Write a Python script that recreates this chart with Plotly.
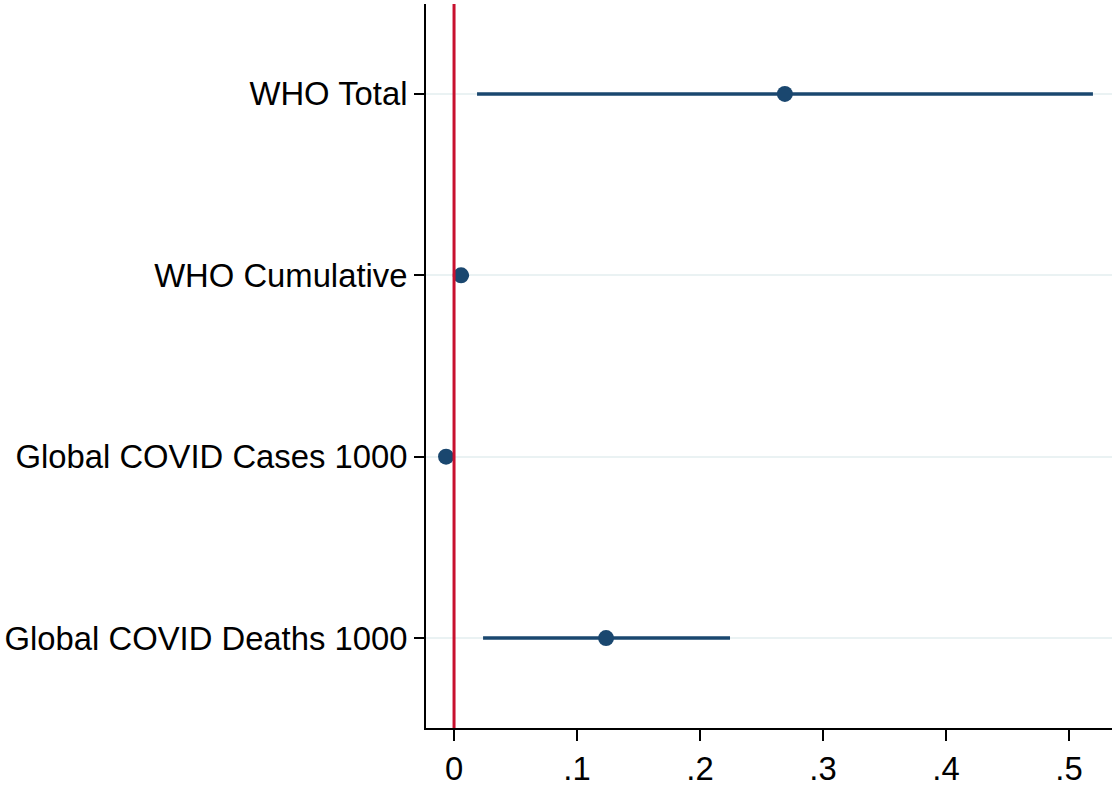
import plotly.graph_objects as go

labels = ["WHO Total", "WHO Cumulative", "Global COVID Cases 1000", "Global COVID Deaths 1000"]
positions = [1, 2, 3, 4]
coef = [0.269, 0.0057, -0.0065, 0.1236]
ci_low = [0.0187, -0.001, -0.0085, 0.0236]
ci_high = [0.5195, 0.012, -0.0045, 0.2244]
xtick_vals = [0, 0.1, 0.2, 0.3, 0.4, 0.5]
xtick_text = ["0", ".1", ".2", ".3", ".4", ".5"]

navy = "#1a476f"
red = "#c8102e"

fig = go.Figure()

# CI lines
for y, lo, hi in zip(positions, ci_low, ci_high):
    fig.add_trace(go.Scatter(x=[lo, hi], y=[y, y], mode="lines",
                             line=dict(color=navy, width=3.5), showlegend=False,
                             hoverinfo="skip"))

fig.add_vline(x=0, line=dict(color=red, width=3), layer="above")

fig.add_trace(go.Scatter(x=coef, y=positions, mode="markers",
                         marker=dict(color=navy, size=16, line=dict(width=0)),
                         showlegend=False))

font = dict(family="Liberation Sans, Arial, sans-serif", size=32.8, color="black")

fig.update_layout(
    width=1117, height=792,
    margin=dict(l=426, r=5, t=4, b=64),
    paper_bgcolor="white", plot_bgcolor="white",
    font=font,
    xaxis=dict(range=[-0.0228, 0.535], tickvals=xtick_vals, ticktext=xtick_text,
               showgrid=False, zeroline=False, showline=True, linecolor="black",
               linewidth=2, ticks="outside", ticklen=11, tickwidth=2,
               tickcolor="black", tickfont=font, automargin=False),
    yaxis=dict(range=[4.496, 0.504], tickvals=positions, ticktext=labels,
               showgrid=True, gridcolor="#eaf2f3", gridwidth=2,
               zeroline=False, showline=True, linecolor="black",
               linewidth=2, ticks="outside", ticklen=10, tickwidth=2,
               tickcolor="black", tickfont=font, automargin=False),
)

fig.write_html("out.html", config={"displayModeBar": False},
               post_script="document.body.style.margin='0';")
